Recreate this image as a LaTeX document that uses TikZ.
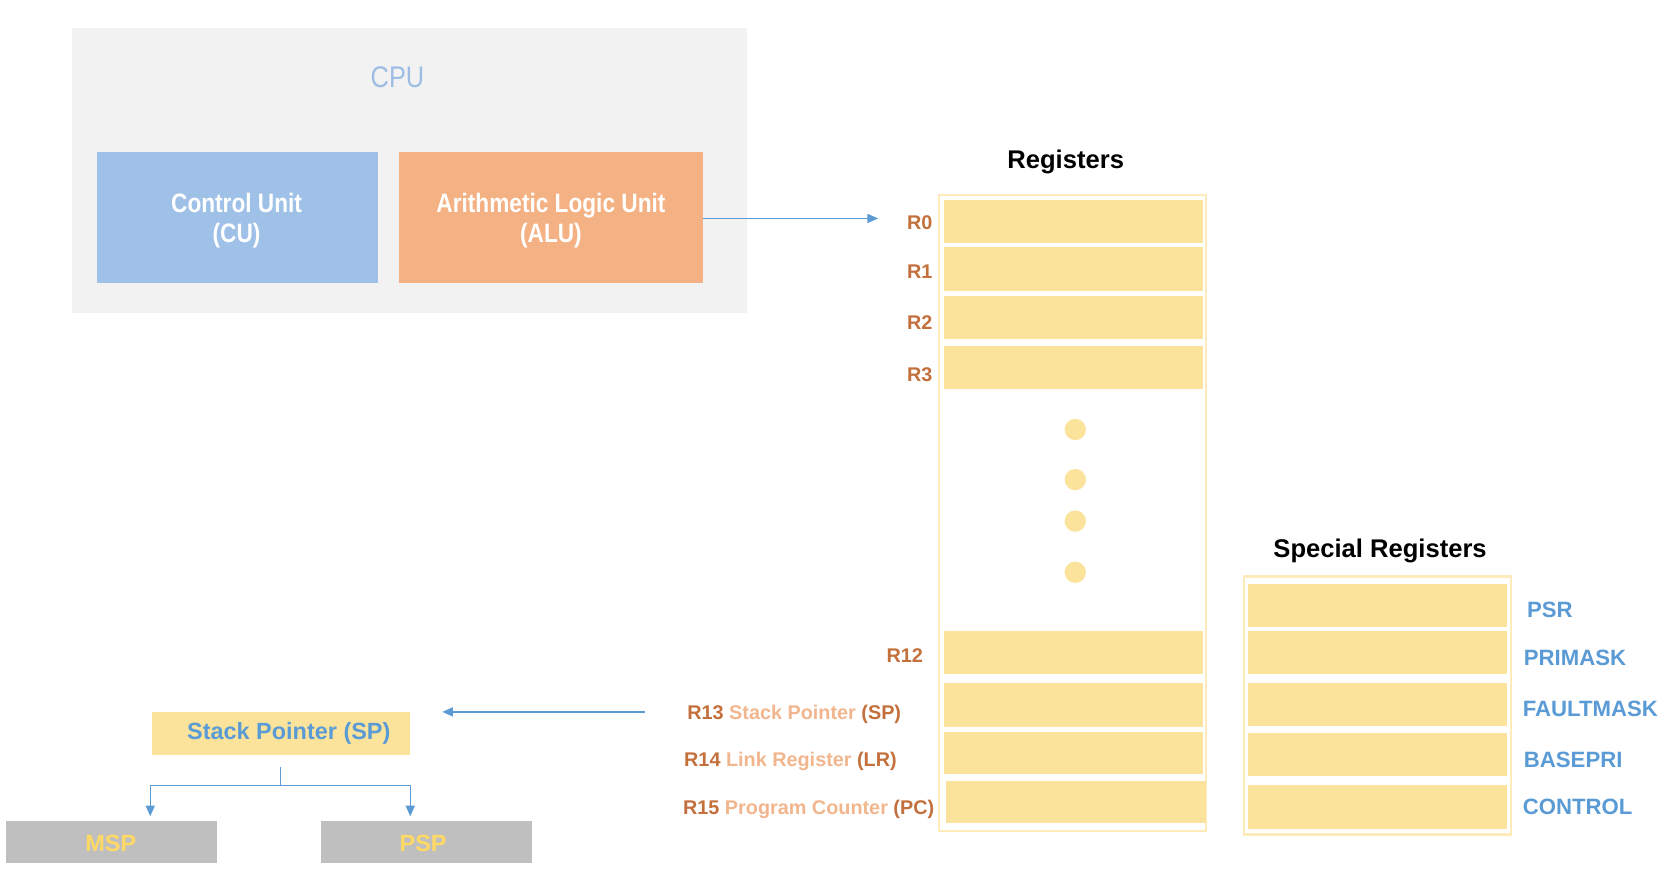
\documentclass[tikz,border=0pt]{standalone}
\usepackage{fontspec}
\setmainfont{Liberation Sans}
\newfontfamily\condfont[FakeStretch=0.85]{Liberation Sans}
\usetikzlibrary{arrows.meta,fit}
\definecolor{cpubg}{HTML}{F2F2F2}
\definecolor{cublue}{HTML}{A0C1E7}
\definecolor{aluorange}{HTML}{F4B183}
\definecolor{cputext}{HTML}{9DBDE4}
\definecolor{arrowblue}{HTML}{5B9BD5}
\definecolor{regy}{HTML}{FCE39B}
\definecolor{regborder}{HTML}{FDEBBA}
\definecolor{rdark}{HTML}{C4703C}
\definecolor{rlight}{HTML}{F2B68E}
\definecolor{spblue}{HTML}{5B9BD5}
\definecolor{graybox}{HTML}{BFBFBF}
\definecolor{mspy}{HTML}{FFD966}
\begin{document}
\begin{tikzpicture}[x=0.5pt,y=-0.5pt,
  every node/.style={inner sep=0pt, outer sep=0pt},
  regrow/.style={fill=regy, draw=none},
  lbl/.style={text height=0.72em, text depth=0pt},
  rlab/.style={lbl, font=\bfseries\fontsize{9.3}{11}\selectfont, text=rdark},
  slab/.style={lbl, anchor=west, font=\bfseries\fontsize{10.4}{12}\selectfont, text=spblue},
  title/.style={lbl, font=\bfseries\fontsize{12}{14}\selectfont, text=black},
  conn/.style={draw=arrowblue, line width=0.7pt},
  arr/.style={conn, -{Triangle[length=5pt,width=4.2pt]}},
  dot/.style={circle, fill=regy, minimum size=10pt},
]
\fill[white] (0,0) rectangle (1568,820);
\useasboundingbox (0,0) rectangle (1568,820);

% CPU
\node[fit={(68,26) (701,294)}, fill=cpubg] (cpu) {};
\node[lbl, font=\condfont\fontsize{14}{16}\selectfont, text=cputext] (cputitle) at (373,75) {CPU};
\node[fit={(91,143) (355,266)}, fill=cublue] (cu) {};
\node[font=\condfont\bfseries\fontsize{12.5}{14}\selectfont, text=white, align=center] (cutext) at (222,207) {Control Unit\\(CU)};
\node[fit={(374,143) (660,266)}, fill=aluorange] (alu) {};
\node[font=\condfont\bfseries\fontsize{12.5}{14}\selectfont, text=white, align=center] (alutext) at (517,207) {Arithmetic Logic Unit\\(ALU)};

% Registers
\node[title] (regtitle) at (1000,151) {Registers};
\node[fit={(881,183) (1132,780)}, draw=regborder, line width=1pt] (regbox) {};
\node[regrow, fit={(886,188) (1129,228)}] (r0) {};
\node[regrow, fit={(886,232) (1129,273)}] (r1) {};
\node[regrow, fit={(886,278) (1129,318)}] (r2) {};
\node[regrow, fit={(886,325) (1129,365)}] (r3) {};
\node[regrow, fit={(886,592) (1129,632)}] (r12) {};
\node[regrow, fit={(886,641) (1129,682)}] (r13) {};
\node[regrow, fit={(886,687) (1129,726)}] (r14) {};
\node[regrow, fit={(888,733) (1132,772)}] (r15) {};
\node[dot] (d1) at (1009,403) {};
\node[dot] (d2) at (1009,450) {};
\node[dot] (d3) at (1009,489) {};
\node[dot] (d4) at (1009,537) {};

\node[rlab, anchor=east] (l0) at (875,208) {R0};
\node[rlab, anchor=east] (l1) at (875,254) {R1};
\node[rlab, anchor=east] (l2) at (875,302) {R2};
\node[rlab, anchor=east] (l3) at (875,351) {R3};
\node[rlab, anchor=east] (l12) at (866,614) {R12};
\node[rlab, anchor=west] (l13) at (645,668) {R13 \textcolor{rlight}{Stack Pointer} (SP)};
\node[rlab, anchor=west] (l14) at (642,712) {R14 \textcolor{rlight}{Link Register} (LR)};
\node[rlab, anchor=west] (l15) at (641,757) {R15 \textcolor{rlight}{Program Counter} (PC)};

% Special registers
\node[title] (sptitle) at (1295,516) {Special Registers};
\node[fit={(1167,541) (1418,783)}, draw=regborder, line width=1pt] (spbox) {};
\node[regrow, fit={(1171,548) (1414,588)}] (s1) {};
\node[regrow, fit={(1171,592) (1414,632)}] (s2) {};
\node[regrow, fit={(1171,641) (1414,681)}] (s3) {};
\node[regrow, fit={(1171,688) (1414,728)}] (s4) {};
\node[regrow, fit={(1171,737) (1414,778)}] (s5) {};
\node[slab] (psr) at (1433,572) {PSR};
\node[slab] (primask) at (1430,617) {PRIMASK};
\node[slab] (faultmask) at (1429,665) {FAULTMASK};
\node[slab] (basepri) at (1430,713) {BASEPRI};
\node[slab] (control) at (1429,757) {CONTROL};

% Stack pointer tree
\node[fit={(143,668) (385,708)}, fill=regy] (sp) {};
\node[lbl, font=\bfseries\fontsize{11}{13}\selectfont, text=spblue] (sptext) at (271,687) {Stack Pointer (SP)};
\node[fit={(6,770) (204,810)}, fill=graybox] (msp) {};
\node[lbl, font=\bfseries\fontsize{11}{13}\selectfont, text=mspy] (msptext) at (104,792) {MSP};
\node[fit={(301,770) (499,810)}, fill=graybox] (psp) {};
\node[lbl, font=\bfseries\fontsize{11}{13}\selectfont, text=mspy] (psptext) at (397,792) {PSP};

% connectors
\coordinate (r0in) at (824,205);
\draw[arr] (alu.east |- r0in) -- (r0in);
\coordinate (spfrom) at (605,668);
\coordinate (spto) at (415,668);
\draw[arr] (spfrom) -- (spto);
\coordinate (stubtop) at (263,720);
\coordinate (j) at (263,737);
\coordinate (jl) at (141,737);
\coordinate (jr) at (385,737);
\coordinate (ml) at (141,766);
\coordinate (pr) at (385,766);
\draw[conn] (stubtop) -- (j);
\draw[arr] (j) -- (jl) -- (ml);
\draw[arr] (j) -- (jr) -- (pr);
\end{tikzpicture}
\end{document}
